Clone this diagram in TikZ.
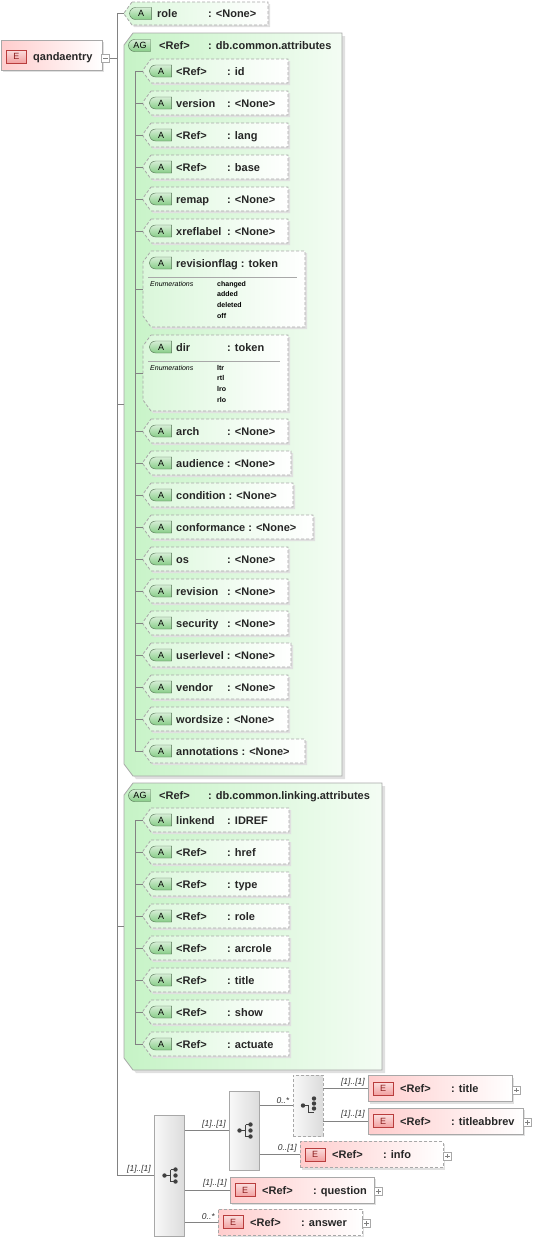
\documentclass[tikz,border=0pt]{standalone}
\usepackage{fontspec}
\setmainfont{Liberation Sans}
\usetikzlibrary{positioning,shapes.misc}

\definecolor{wire}{RGB}{130,130,130}
\definecolor{rim}{RGB}{168,168,168}
\definecolor{agfill}{RGB}{198,243,198}
\definecolor{atfill}{RGB}{218,247,218}
\definecolor{elfill}{RGB}{255,205,205}
\definecolor{abadge}{RGB}{135,205,135}
\definecolor{abadgerim}{RGB}{80,110,80}
\definecolor{ebadge}{RGB}{242,160,160}
\definecolor{ebadgerim}{RGB}{185,60,60}
\definecolor{eletter}{RGB}{140,30,30}

\newsavebox{\namebox}
\newcommand{\colname}[2]{\sbox{\namebox}{#2}\ifdim\wd\namebox>\dimexpr#1-4pt\relax\usebox{\namebox}\ \else\makebox[#1][l]{#2}\fi}
% outline with cut left corners: x1, y1, x2, y2, cut
\newcommand{\chamf}[5]{({#1+#5},#2) -- (#3,#2) -- (#3,#4) -- ({#1+#5},#4) -- (#1,{#4-#5-3}) -- (#1,{#2+#5+3}) -- cycle}
\newcommand{\seqicon}[1]{%
  \begin{scope}[shift={(#1.center)}]
    \draw[black!75, line width=.9pt] (-5,0) -- (1,0) (1,-6) -- (1,6) (1,-6) -- (6,-6) (1,6) -- (6,6);
    \foreach \p in {(-5,0),(6,-6),(6,0),(6,6)} \fill[black!75] \p circle (2.2pt);
  \end{scope}}
\newcommand{\choiceicon}[1]{%
  \begin{scope}[shift={(#1.center)}]
    \draw[black!75, line width=.9pt] (-5,0) -- (0,0) -- (0,7) -- (6,7);
    \foreach \p in {(-5,0),(6,-7),(6,-2),(6,3)} \fill[black!75] \p circle (2.2pt);
  \end{scope}}

\tikzset{
  conn/.style={draw=wire, line width=.6pt},
  txt/.style={font=\fontsize{11}{13}\selectfont\bfseries, text=black!85, inner sep=0pt, anchor=base west},
  mult/.style={font=\fontsize{8.5}{9}\selectfont\itshape, text=black!80, inner sep=0pt, anchor=south east, pos=1, xshift=-3pt, yshift=2pt},
  hold/.style={draw=none, inner sep=0pt, outer sep=0pt},
  drop/.style={fill=black!12},
  attr/.style={left color=atfill, right color=white, draw=rim, dash pattern=on 3pt off 2pt, line width=.8pt},
  group/.style={left color=agfill, right color=white!80!agfill, draw=rim, line width=.8pt},
  abadge/.style={rounded rectangle, rounded rectangle right arc=none, draw=abadgerim, top color=abadge!35!white, bottom color=abadge,
    minimum width=22pt, minimum height=12pt, inner sep=0pt, font=\fontsize{9}{10}\selectfont},
  elem/.style={rectangle, draw=rim, line width=.8pt, left color=elfill, right color=white, inner sep=0pt},
  opt/.style={dash pattern=on 3pt off 2pt},
  ebadge/.style={rectangle, draw=ebadgerim, top color=ebadge!35!white, bottom color=ebadge, minimum width=20pt, minimum height=13pt,
    inner sep=0pt, font=\fontsize{9}{10}\selectfont, text=eletter},
  seq/.style={rectangle, draw=rim, line width=.8pt, left color=gray!5, right color=gray!28, minimum width=30pt, inner sep=0pt},
  minus/.style={rectangle, draw=rim, fill=white, minimum size=8pt, inner sep=0pt,
    path picture={\draw[black!50, line width=.6pt] ([xshift=1.8pt]path picture bounding box.west) -- ([xshift=-1.8pt]path picture bounding box.east);}},
  plus/.style={rectangle, draw=rim, fill=white, minimum size=8pt, inner sep=0pt,
    path picture={\draw[black!50, line width=.6pt] ([xshift=1.8pt]path picture bounding box.west) -- ([xshift=-1.8pt]path picture bounding box.east)
      ([yshift=-1.8pt]path picture bounding box.north) -- ([yshift=1.8pt]path picture bounding box.south);}},
  enumlbl/.style={font=\fontsize{7}{8}\selectfont\itshape, inner sep=0pt, anchor=base west},
  enumval/.style={font=\fontsize{7}{8}\selectfont\bfseries, inner sep=0pt, anchor=base west},
}

\begin{document}
\begin{tikzpicture}[x=1pt,y=-1pt]
\useasboundingbox (0,0) rectangle (533,1242);

% root element
\fill[drop] (3,42) rectangle (104,72);
\node[elem, minimum width=101pt, minimum height=30pt] (qandaentry) at (51.5,55) {};
\node[ebadge] (qandaentry-e) at (16.5,56.5) {E};
\node[txt] (qandaentry-lbl) at (33,60.5) {qandaentry};
\node[minus] (qandaentry-tog) at (105.5,58.5) {};
\coordinate (trunk) at (117,58.5);

% role
\fill[drop, shift={(2,2)}] \chamf{124}{2}{268}{25}{8};
\path[attr] \chamf{124}{2}{268}{25}{8};
\node[hold, minimum width=144pt, minimum height=23pt] (role) at (196,13.5) {};
\node[abadge] (role-a) at (141,13.5) {A};
\node[txt] (role-lbl) at (157,17.5) {\colname{51pt}{role}: <None>};

% db.common.attributes
\fill[drop, shift={(3,3)}] \chamf{124}{33}{342}{776}{9};
\path[group] \chamf{124}{33}{342}{776}{9};
\node[hold, minimum width=218pt, minimum height=743pt] (common) at (233,404.5) {};
\node[abadge] (common-ag) at (140,45.5) {AG};
\node[txt] (common-lbl) at (159,49.5) {\colname{49pt}{<Ref>}: db.common.attributes};
\coordinate (inner1) at (135,71);

\foreach \n/\y/\xr/\nm/\ty in {id/71/288/<Ref>/id, version/103/288/version/<None>, lang/135/288/<Ref>/lang,
    base/167/288/<Ref>/base, remap/199/288/remap/<None>, xreflabel/231/288/xreflabel/<None>,
    arch/431/288/arch/<None>, audience/463/291/audience/<None>, condition/495/293/condition/<None>,
    conformance/527/313/conformance/<None>, os/559/288/os/<None>, revision/591/288/revision/<None>,
    security/623/288/security/<None>, userlevel/655/291/userlevel/<None>, vendor/687/288/vendor/<None>,
    wordsize/719/288/wordsize/<None>, annotations/751/305/annotations/<None>} {
  \fill[drop, shift={(2,2)}] \chamf{143}{\y-12}{\xr}{\y+12}{8};
  \path[attr] \chamf{143}{\y-12}{\xr}{\y+12}{8};
  \node[hold, minimum width={\xr-143}, minimum height=24pt] (a-\n) at ({(143+\xr)/2},\y) {};
  \node[abadge] (a-\n-a) at (161,\y) {A};
  \node[txt] (a-\n-lbl) at (176,\y+4) {\colname{51pt}{\nm}: \ty};
}

% revisionflag
\fill[drop, shift={(2,2)}] \chamf{143}{251}{305}{327}{8};
\path[attr] \chamf{143}{251}{305}{327}{8};
\node[hold, minimum width=162pt, minimum height=76pt] (a-revisionflag) at (224,289) {};
\node[abadge] (a-revisionflag-a) at (161,263) {A};
\node[txt] (a-revisionflag-lbl) at (176,267) {\colname{51pt}{revisionflag}: token};
\draw[rim, line width=.8pt] (148,277) -- (297,277);
\node[enumlbl] (a-revisionflag-enum) at (150,286) {Enumerations};
\foreach \v [count=\k] in {changed,added,deleted,off}
  \node[enumval] (a-revisionflag-v\k) at (217,{275.5+10.7*\k}) {\v};

% dir
\fill[drop, shift={(2,2)}] \chamf{143}{335}{288}{411}{8};
\path[attr] \chamf{143}{335}{288}{411}{8};
\node[hold, minimum width=145pt, minimum height=76pt] (a-dir) at (215.5,373) {};
\node[abadge] (a-dir-a) at (161,347) {A};
\node[txt] (a-dir-lbl) at (176,351) {\colname{51pt}{dir}: token};
\draw[rim, line width=.8pt] (148,361) -- (280,361);
\node[enumlbl] (a-dir-enum) at (150,370) {Enumerations};
\foreach \v [count=\k] in {ltr,rtl,lro,rlo}
  \node[enumval] (a-dir-v\k) at (217,{359.5+10.7*\k}) {\v};

\draw[conn] (inner1 |- a-id.west) -- (inner1 |- a-annotations.west);
\foreach \n in {id,version,lang,base,remap,xreflabel,revisionflag,dir,arch,audience,condition,
    conformance,os,revision,security,userlevel,vendor,wordsize,annotations}
  \draw[conn] (inner1 |- a-\n.west) -- (a-\n.west);

% db.common.linking.attributes
\fill[drop, shift={(3,3)}] \chamf{124}{783}{382}{1070}{9};
\path[group] \chamf{124}{783}{382}{1070}{9};
\node[hold, minimum width=258pt, minimum height=287pt] (linking) at (253,926.5) {};
\node[abadge] (linking-ag) at (140,795.5) {AG};
\node[txt] (linking-lbl) at (159,799.5) {\colname{49pt}{<Ref>}: db.common.linking.attributes};
\coordinate (inner2) at (135,820);

\foreach \n/\y/\nm/\ty in {linkend/820/linkend/IDREF, href/852/<Ref>/href, type/884/<Ref>/type,
    lrole/916/<Ref>/role, arcrole/948/<Ref>/arcrole, ltitle/980/<Ref>/title, show/1012/<Ref>/show,
    actuate/1044/<Ref>/actuate} {
  \fill[drop, shift={(2,2)}] \chamf{143}{\y-12}{289}{\y+12}{8};
  \path[attr] \chamf{143}{\y-12}{289}{\y+12}{8};
  \node[hold, minimum width=146pt, minimum height=24pt] (l-\n) at (216,\y) {};
  \node[abadge] (l-\n-a) at (161,\y) {A};
  \node[txt] (l-\n-lbl) at (176,\y+4) {\colname{51pt}{\nm}: \ty};
  \draw[conn] (inner2 |- l-\n.west) -- (l-\n.west);
}
\draw[conn] (inner2 |- l-linkend.west) -- (inner2 |- l-actuate.west);

% content model
\node[seq, minimum height=121pt] (seqA) at (169.5,1175.5) {};
\node[seq, minimum height=79pt] (seqB) at (244.5,1130.5) {};
\node[seq, opt, minimum height=61pt] (choice) at (308,1105.5) {};
\seqicon{seqA}
\seqicon{seqB}
\choiceicon{choice}

\foreach \n/\x/\y/\w/\ty/\o in {title/368/1088.5/144/title/solid, titleabbrev/368/1121/155/titleabbrev/solid,
    info/300/1154.5/143/info/opt, question/230/1190/144/question/solid, answer/218/1222/144/answer/opt} {
  \fill[drop] (\x+2,\y-11) rectangle (\x+\w+2,\y+15);
  \node[elem, \o, minimum width=\w pt, minimum height=26pt, anchor=west] (\n) at (\x,\y) {};
  \node[ebadge] (\n-e) at (\x+15,\y) {E};
  \node[txt] (\n-lbl) at (\x+32,\y+4) {\colname{51pt}{<Ref>}: \ty};
  \node[plus] (\n-tog) at (\x+\w+4.5,\y+1.5) {};
}

% connectors
\draw[conn] (qandaentry-tog) -- (trunk);
\draw[conn] (role.west) -| (trunk |- seqA.west);
\draw[conn] (trunk |- common.west) -- (common.west);
\draw[conn] (trunk |- linking.west) -- (linking.west);
\draw[conn] (trunk |- seqA.west) -- node[mult] (m-seqA) {[1]..[1]} (seqA.west);
\draw[conn] (seqA.east |- seqB.west) -- node[mult] (m-seqB) {[1]..[1]} (seqB.west);
\draw[conn] (seqA.east |- question.west) -- node[mult] (m-question) {[1]..[1]} (question.west);
\draw[conn] (seqA.east |- answer.west) -- node[mult] (m-answer) {0..*} (answer.west);
\draw[conn] (seqB.east |- choice.west) -- node[mult] (m-choice) {0..*} (choice.west);
\draw[conn] (seqB.east |- info.west) -- node[mult] (m-info) {0..[1]} (info.west);
\draw[conn] (choice.east |- title.west) -- node[mult] (m-title) {[1]..[1]} (title.west);
\draw[conn] (choice.east |- titleabbrev.west) -- node[mult] (m-titleabbrev) {[1]..[1]} (titleabbrev.west);
\end{tikzpicture}
\end{document}
